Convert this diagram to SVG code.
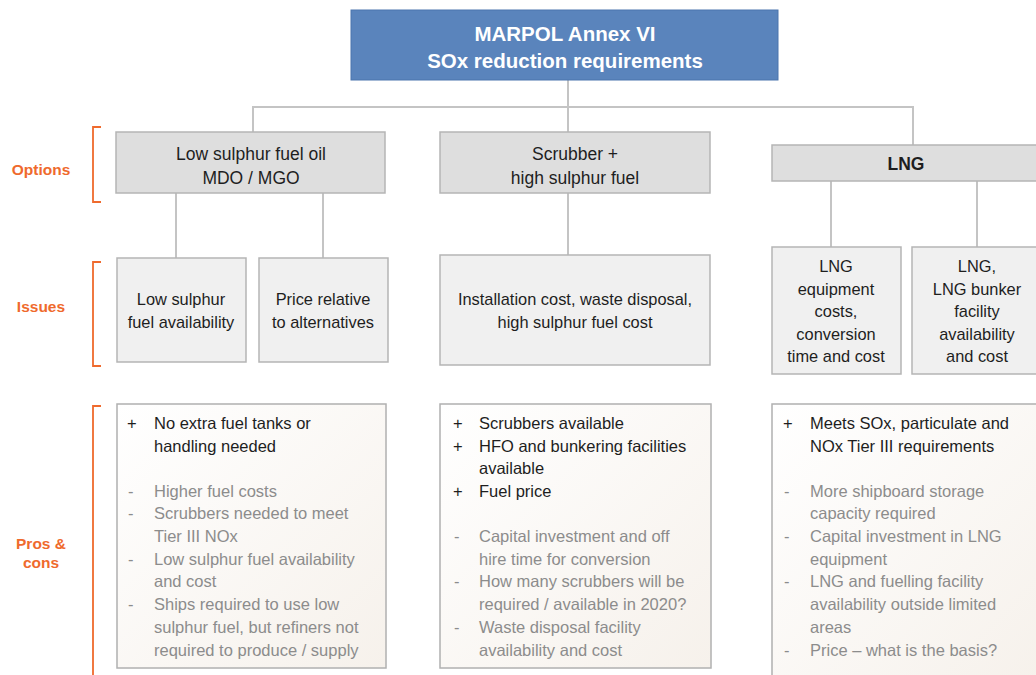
<svg xmlns="http://www.w3.org/2000/svg" width="1036" height="675" viewBox="0 0 1036 675">
<defs>
<linearGradient id="pc" x1="0" y1="0" x2="1" y2="1">
<stop offset="0" stop-color="#ffffff"/>
<stop offset="1" stop-color="#f6f1eb"/>
</linearGradient>
<style>
text{font-family:"Liberation Sans",Arial,sans-serif;}
.opt{fill:#dedede;stroke:#b5b5b5;stroke-width:1.5;}
.iss{fill:#f0f0f0;stroke:#b5b5b5;stroke-width:1.5;}
.pc{fill:url(#pc);stroke:#b0b0b0;stroke-width:1.5;}
.t{font-size:17.5px;fill:#1e1e1e;text-anchor:middle;}
.i{font-size:16.4px;fill:#1e1e1e;text-anchor:middle;}
.b{font-size:16.5px;fill:#1e1e1e;}
.g{font-size:16.5px;fill:#8c8c8c;}
.lbl{font-size:15.5px;font-weight:bold;fill:#ef6a2d;text-anchor:middle;}
.br{fill:none;stroke:#ef6a2d;stroke-width:1.8;}
.cn{fill:none;stroke:#c4c4c4;stroke-width:2;}
</style>
</defs>
<rect width="1036" height="675" fill="#ffffff"/>

<g id="connectors">
<path class="cn" d="M568 80V132M253 132V107H913V145"/>
<path class="cn" d="M176 193V258M323 193V258"/>
<path class="cn" d="M568 193V255"/>
<path class="cn" d="M831 181V247M977 181V247"/>
</g>

<g id="labels">
<text class="lbl" x="41" y="175">Options</text>
<path class="br" d="M101 127H93V202H101"/>
<text class="lbl" x="41" y="312">Issues</text>
<path class="br" d="M101 262H93V366H101"/>
<text class="lbl" x="41" y="549">Pros &amp;</text>
<text class="lbl" x="41" y="568">cons</text>
<path class="br" d="M101 406H93V675"/>
</g>

<g id="root">
<rect x="351" y="10" width="427" height="70" fill="#5a84bc" stroke="#4b75ad" stroke-width="1"/>
<text x="565" y="41" font-size="20.5" font-weight="bold" fill="#ffffff" text-anchor="middle">MARPOL Annex VI</text>
<text x="565" y="68" font-size="20.5" font-weight="bold" fill="#ffffff" text-anchor="middle">SOx reduction requirements</text>
</g>

<g id="opt-lsfo">
<rect class="opt" x="116" y="132" width="269" height="61"/>
<text class="t" x="251" y="160">Low sulphur fuel oil</text>
<text class="t" x="251" y="184">MDO / MGO</text>
</g>
<g id="opt-scrubber">
<rect class="opt" x="440" y="132" width="270" height="61"/>
<text class="t" x="575" y="160">Scrubber +</text>
<text class="t" x="575" y="184">high sulphur fuel</text>
</g>
<g id="opt-lng">
<rect class="opt" x="772" y="145" width="270" height="36"/>
<text class="t" x="906" y="170" font-weight="bold" font-size="16.5">LNG</text>
</g>

<g id="iss-lsfo-avail">
<rect class="iss" x="117" y="258" width="129" height="104"/>
<text class="i" x="181" y="305">Low sulphur</text>
<text class="i" x="181" y="328">fuel availability</text>
</g>
<g id="iss-lsfo-price">
<rect class="iss" x="259" y="258" width="129" height="104"/>
<text class="i" x="323" y="305">Price relative</text>
<text class="i" x="323" y="328">to alternatives</text>
</g>
<g id="iss-scrubber">
<rect class="iss" x="440" y="255" width="270" height="110"/>
<text class="i" x="575" y="305">Installation cost, waste disposal,</text>
<text class="i" x="575" y="328">high sulphur fuel cost</text>
</g>
<g id="iss-lng-equip">
<rect class="iss" x="772" y="247" width="129" height="127"/>
<text class="i" x="836" y="272">LNG</text>
<text class="i" x="836" y="295">equipment</text>
<text class="i" x="836" y="317">costs,</text>
<text class="i" x="836" y="340">conversion</text>
<text class="i" x="836" y="362">time and cost</text>
</g>
<g id="iss-lng-bunker">
<rect class="iss" x="912" y="247" width="130" height="127"/>
<text class="i" x="977" y="272">LNG,</text>
<text class="i" x="977" y="295">LNG bunker</text>
<text class="i" x="977" y="317">facility</text>
<text class="i" x="977" y="340">availability</text>
<text class="i" x="977" y="362">and cost</text>
</g>

<g id="pc-lsfo">
<rect class="pc" x="117" y="404" width="269" height="264"/>
<text class="b" x="127" y="429">+</text>
<text class="b" x="154" y="429">No extra fuel tanks or</text>
<text class="b" x="154" y="452">handling needed</text>
<text class="g" x="128" y="497">-</text><text class="g" x="154" y="497">Higher fuel costs</text>
<text class="g" x="128" y="519">-</text><text class="g" x="154" y="519">Scrubbers needed to meet</text>
<text class="g" x="154" y="542">Tier III NOx</text>
<text class="g" x="128" y="565">-</text><text class="g" x="154" y="565">Low sulphur fuel availability</text>
<text class="g" x="154" y="587">and cost</text>
<text class="g" x="128" y="610">-</text><text class="g" x="154" y="610">Ships required to use low</text>
<text class="g" x="154" y="633">sulphur fuel, but refiners not</text>
<text class="g" x="154" y="656">required to produce / supply</text>
</g>

<g id="pc-scrubber">
<rect class="pc" x="440" y="404" width="271" height="264"/>
<text class="b" x="453" y="429">+</text><text class="b" x="479" y="429">Scrubbers available</text>
<text class="b" x="453" y="452">+</text><text class="b" x="479" y="452">HFO and bunkering facilities</text>
<text class="b" x="479" y="474">available</text>
<text class="b" x="453" y="497">+</text><text class="b" x="479" y="497">Fuel price</text>
<text class="g" x="454" y="542">-</text><text class="g" x="479" y="542">Capital investment and off</text>
<text class="g" x="479" y="565">hire time for conversion</text>
<text class="g" x="454" y="587">-</text><text class="g" x="479" y="587">How many scrubbers will be</text>
<text class="g" x="479" y="610">required / available in 2020?</text>
<text class="g" x="454" y="633">-</text><text class="g" x="479" y="633">Waste disposal facility</text>
<text class="g" x="479" y="656">availability and cost</text>
</g>

<g id="pc-lng">
<rect class="pc" x="772" y="404" width="270" height="280"/>
<text class="b" x="783" y="429">+</text><text class="b" x="810" y="429">Meets SOx, particulate and</text>
<text class="b" x="810" y="452">NOx Tier III requirements</text>
<text class="g" x="784" y="497">-</text><text class="g" x="810" y="497">More shipboard storage</text>
<text class="g" x="810" y="519">capacity required</text>
<text class="g" x="784" y="542">-</text><text class="g" x="810" y="542">Capital investment in LNG</text>
<text class="g" x="810" y="565">equipment</text>
<text class="g" x="784" y="587">-</text><text class="g" x="810" y="587">LNG and fuelling facility</text>
<text class="g" x="810" y="610">availability outside limited</text>
<text class="g" x="810" y="633">areas</text>
<text class="g" x="784" y="656">-</text><text class="g" x="810" y="656">Price – what is the basis?</text>
</g>
</svg>
